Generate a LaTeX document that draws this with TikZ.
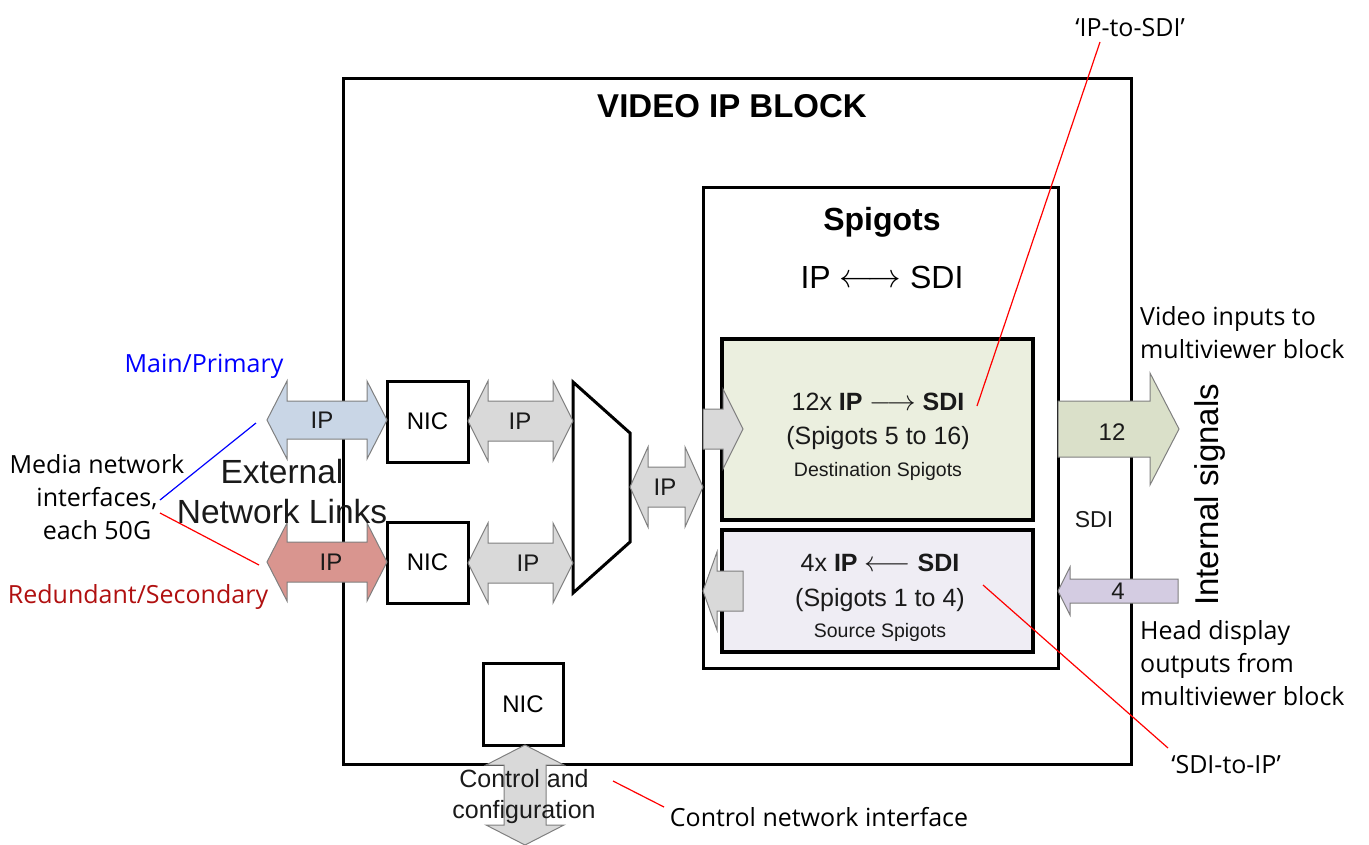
\documentclass[tikz,border=0pt]{standalone}
\usepackage{fontspec}
\setmainfont{Liberation Sans}
\newfontfamily\annotfont{Open Sans}
\definecolor{arrowgray}{HTML}{D9D9D9}
\definecolor{arrowedge}{HTML}{7F7F7F}
\definecolor{ipblue}{HTML}{C9D6E6}
\definecolor{ipred}{HTML}{D9958F}
\definecolor{destfill}{HTML}{EBEFDF}
\definecolor{srcfill}{HTML}{EFEDF4}
\definecolor{outgreen}{HTML}{DAE0C9}
\definecolor{inpurple}{HTML}{D4CCE2}
\definecolor{annblue}{HTML}{0000FF}
\definecolor{anndarkred}{HTML}{B01010}
\definecolor{annred}{HTML}{FF0000}
\definecolor{txtgray}{HTML}{1A1A1A}
% double horizontal block arrow: [style]{x left}{x right}{y centre}{shaft half}{head half}{head length}
\newcommand{\dharrow}[7][]{%
  \path[#1] (#2,#4) -- ({#2+#7},{#4-#6}) -- ({#2+#7},{#4-#5}) -- ({#3-#7},{#4-#5})
    -- ({#3-#7},{#4-#6}) -- (#3,#4) -- ({#3-#7},{#4+#6}) -- ({#3-#7},{#4+#5})
    -- ({#2+#7},{#4+#5}) -- ({#2+#7},{#4+#6}) -- cycle;}
% single block arrow: [style]{x tail}{x tip}{y centre}{shaft half}{head half}{head base x}
\newcommand{\sharrow}[7][]{%
  \path[#1] (#2,{#4-#5}) -- (#7,{#4-#5}) -- (#7,{#4-#6}) -- (#3,#4)
    -- (#7,{#4+#6}) -- (#7,{#4+#5}) -- (#2,{#4+#5}) -- cycle;}
\begin{document}
\begin{tikzpicture}[x=1pt,y=-1pt,
  blk/.style={draw=black,line width=3pt,inner sep=0pt},
  garrow/.style={fill=arrowgray,draw=arrowedge,line width=1pt},
  lbl/.style={font=\fontsize{24}{28}\selectfont,inner sep=0pt,text=txtgray},
  ann/.style={font=\annotfont\fontsize{25}{33}\selectfont,inner sep=0pt,align=center},
  leader/.style={line width=1.2pt}]
\useasboundingbox (0,0) rectangle (1369,844);

% main block
\node[blk,minimum width=788,minimum height=686] (block) at (737,421) {};
\node[font=\bfseries\fontsize{33}{38}\selectfont,inner sep=0pt] (title) at (732,106) {VIDEO IP BLOCK};

% spigots
\node[blk,minimum width=355,minimum height=481] (spig) at (880.5,427.5) {};
\node[font=\bfseries\fontsize{32}{36}\selectfont,inner sep=0pt] (spigt) at (882,222) {Spigots};
\node[font=\fontsize{32}{36}\selectfont,inner sep=0pt] (spigsub) at (882,277) {IP \raisebox{1pt}{\scalebox{1.35}{$\longleftrightarrow$}} SDI};
\node[blk,line width=3.5pt,fill=destfill,minimum width=311,minimum height=181] (dest) at (877.5,429.5) {};
\node[blk,line width=3.5pt,fill=srcfill,minimum width=311,minimum height=122] (src) at (877.5,591) {};
\node[font=\fontsize{25}{36}\selectfont,inner sep=0pt,text=txtgray] (destl1) at (878,402) {12x \textbf{IP} \scalebox{1.15}{$\longrightarrow$} \textbf{SDI}};
\node[font=\fontsize{25}{36}\selectfont,inner sep=0pt,text=txtgray] (destl2) at (878,438) {(Spigots 5 to 16)};
\node[font=\fontsize{19.5}{24}\selectfont,inner sep=0pt,text=txtgray] (destl3) at (878,471) {Destination Spigots};
\node[font=\fontsize{25}{36}\selectfont,inner sep=0pt,text=txtgray] (srcl1) at (880,563) {4x \textbf{IP} \scalebox{1.15}{$\longleftarrow$} \textbf{SDI}};
\node[font=\fontsize{25}{36}\selectfont,inner sep=0pt,text=txtgray] (srcl2) at (880,600) {(Spigots 1 to 4)};
\node[font=\fontsize{19.5}{24}\selectfont,inner sep=0pt,text=txtgray] (srcl3) at (880,632) {Source Spigots};

% NICs
\node[blk,minimum width=81,minimum height=81,font=\fontsize{24}{28}\selectfont] (nic1) at (427.5,421.5) {NIC};
\node[blk,minimum width=81,minimum height=81,font=\fontsize{24}{28}\selectfont] (nic2) at (427.5,562.5) {NIC};
\node[blk,minimum width=80,minimum height=82,font=\fontsize{24}{28}\selectfont] (nic3) at (523,704) {NIC};

% multiplexer
\draw[line width=3pt,line join=miter,fill=white] (573,382) coordinate (muxtl) -- (630,433) -- (630,542) -- (573,593) coordinate (muxbl) -- cycle;

% external links
\dharrow[fill=ipblue,draw=arrowedge,line width=1pt]{267}{387}{420}{19}{39}{20}
\node[lbl] (ipmain) at (322,420) {IP};
\dharrow[fill=ipred,draw=arrowedge,line width=1pt]{267}{387}{562}{20}{39}{20}
\node[lbl] (ipred) at (331,562) {IP};

% NIC to mux
\dharrow[garrow]{468}{573}{421}{20}{40}{20}
\node[lbl] (ip1) at (520,421) {IP};
\dharrow[garrow]{468}{573}{563}{20}{40}{20}
\node[lbl] (ip2) at (528,563) {IP};
% mux to spigots
\dharrow[garrow]{630}{703}{487}{20}{40}{18}
\node[lbl] (ip3) at (665,487) {IP};

% arrows in spigots
\sharrow[garrow]{703}{743}{429}{20}{40}{723}
\sharrow[garrow]{743}{703}{591}{20}{39}{717}

% internal signals
\sharrow[fill=outgreen,draw=arrowedge,line width=1pt]{1058}{1179}{429}{28}{56}{1150}
\node[lbl] (n12) at (1112,432) {12};
\sharrow[fill=inpurple,draw=arrowedge,line width=1pt]{1178}{1058}{591}{12}{24}{1070}
\node[lbl] (n4) at (1118,591) {4};
\node[lbl,font=\fontsize{23}{28}\selectfont] (sdi) at (1094,520) {SDI};
\node[font=\fontsize{33}{38}\selectfont,inner sep=0pt,rotate=90] (intsig) at (1210,495) {Internal signals};

% control interface
\path[garrow] (525,745) -- (564,765) -- (546,765) -- (546,825) -- (564,825) -- (525,845)
  -- (486,825) -- (504,825) -- (504,765) -- (486,765) -- cycle;
\node[font=\fontsize{25}{31}\selectfont,inner sep=0pt,align=center,text=txtgray] (ctrl) at (524,797) {Control and\\configuration};

% external network links label
\node[font=\fontsize{33.5}{40}\selectfont,inner sep=0pt,align=center,text=txtgray] (ext) at (282,492) {External\\Network Links};

% annotations
\node[ann,text=annblue] (mainp) at (204,366) {Main/Primary};
\node[ann] (media) at (97,497) {Media network\\interfaces,\\each 50G};
\node[ann,text=anndarkred] (redund) at (138,597) {Redundant/Secondary};
\node[ann,anchor=west,align=left] (vidin) at (1140,333) {Video inputs to\\multiviewer block};
\node[ann,anchor=west,align=left] (headd) at (1140,663) {Head display\\outputs from\\multiviewer block};
\node[ann] (ip2sdi) at (1130,28) {‘IP-to-SDI’};
\node[ann] (sdi2ip) at (1226,765) {‘SDI-to-IP’};
\node[ann] (ctrlnet) at (819,817) {Control network interface};

\coordinate (mb1) at (160,500);
\coordinate (mb2) at (256,423);
\coordinate (mr1) at (160,513);
\coordinate (mr2) at (259,565);
\coordinate (is1) at (1100,42);
\coordinate (is2) at (977,406);
\coordinate (si1) at (983,585);
\coordinate (si2) at (1168,748);
\coordinate (cn1) at (613,781);
\coordinate (cn2) at (664,807);
\draw[leader,annblue] (mb1) -- (mb2);
\draw[leader,annred] (mr1) -- (mr2);
\draw[leader,annred] (is1) -- (is2);
\draw[leader,annred] (si1) -- (si2);
\draw[leader,annred] (cn1) -- (cn2);
\end{tikzpicture}
\end{document}
